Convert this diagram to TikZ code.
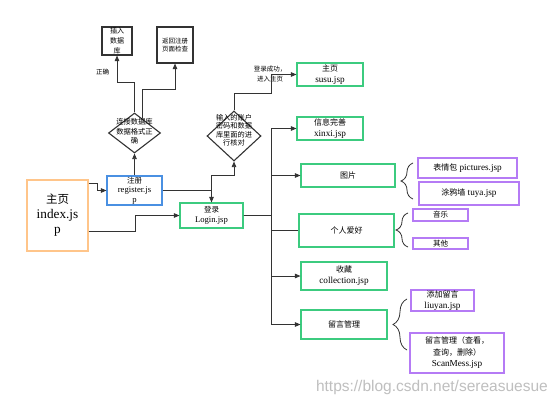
\documentclass[tikz,border=0pt]{standalone}
\usepackage{fontspec}
\setmainfont{Liberation Serif}[Scale=1.15]
\newfontfamily\cjk{Noto Sans CJK SC}
\newfontfamily\wmfont{Liberation Sans}
\usetikzlibrary{arrows.meta,shapes.geometric,decorations.pathreplacing}
\definecolor{lnc}{HTML}{333333}
\definecolor{grn}{HTML}{3CCB7F}
\definecolor{prp}{HTML}{B57BF5}
\definecolor{blu}{HTML}{4A90E2}
\definecolor{org}{HTML}{FFC58A}
\begin{document}
\begin{tikzpicture}[x=1pt,y=-1pt,
  box/.style={draw, line width=1.1pt, align=center, inner sep=0pt, fill=white},
  gbox/.style={box, draw=grn, font=\fontsize{8}{11}\selectfont},
  pbox/.style={box, draw=prp, font=\fontsize{8}{11}\selectfont},
  kbox/.style={box, draw=lnc, font=\fontsize{7}{10}\selectfont},
  dshape/.style={diamond, draw=lnc, line width=1.1pt, inner sep=0pt, fill=white},
  dtext/.style={align=center, inner sep=0pt, font=\fontsize{7.3}{9.5}\selectfont},
  lbl/.style={align=center, inner sep=0pt, font=\fontsize{6.5}{10}\selectfont},
  arr/.style={draw=lnc, line width=0.8pt, -{Triangle[length=5.5pt,width=4.5pt]}},
  ln/.style={draw=lnc, line width=0.8pt},
  brc/.style={draw=lnc, line width=0.8pt, decorate},
]
\fill[white] (0,0) rectangle (554,409);
\useasboundingbox (0,0) rectangle (554,409);

% left part
\node[box, draw=org, line width=1.2pt, minimum width=61pt, minimum height=71pt,
      font=\fontsize{11.5}{15}\selectfont] (index) at (57.5,215.5) {{\cjk 主页}\\index.js\\p};
\node[box, draw=blu, minimum width=55pt, minimum height=29pt,
      font=\fontsize{7.5}{9.5}\selectfont] (register) at (134.5,190.5) {{\cjk 注册}\\register.js\\p};
\node[gbox, minimum width=63pt, minimum height=25pt, font=\fontsize{7.5}{10.5}\selectfont]
      (login) at (211.5,215.5) {{\cjk 登录}\\Login.jsp};

\node[kbox, minimum width=30pt, minimum height=28pt, font=\fontsize{7}{10}\selectfont]
      (insert) at (117,41) {\cjk 插入\\\cjk 数据\\\cjk 库};
\node[kbox, minimum width=36pt, minimum height=36pt, font=\fontsize{6.5}{8.5}\selectfont]
      (ret) at (175,45) {\cjk 返回注册\\\cjk 页面检查};

\node[dshape, minimum width=52pt, minimum height=40pt] (d1) at (134.5,133) {};
\node[dtext] (d1t) at (134.5,131.5) {\cjk 连接数据库\\\cjk 数据格式正\\\cjk 确};
\node[dshape, minimum width=54pt, minimum height=50pt] (d2) at (234,136) {};
\node[dtext, font=\fontsize{7.2}{8.5}\selectfont] (d2t) at (234,130.5)
      {\cjk 输入的账户\\\cjk 密码和数据\\\cjk 库里面的进\\\cjk 行核对};

\node[lbl] (ok) at (102.5,72) {\cjk 正确};

% right green boxes
\node[gbox, minimum width=66pt, minimum height=23pt] (susu) at (330,74.5) {{\cjk 主页}\\susu.jsp};
\node[gbox, minimum width=66pt, minimum height=23pt] (xinxi) at (330,128.5) {{\cjk 信息完善}\\xinxi.jsp};
\node[gbox, minimum width=94pt, minimum height=23pt] (tupian) at (348,175.5) {\cjk 图片};
\node[gbox, minimum width=95pt, minimum height=33pt] (hobby) at (346.5,230.5) {\cjk 个人爱好};
\node[gbox, minimum width=86pt, minimum height=28pt] (coll) at (344,276) {{\cjk 收藏}\\collection.jsp};
\node[gbox, minimum width=86pt, minimum height=29pt] (lymg) at (344,324.5) {\cjk 留言管理};

% purple boxes
\node[pbox, minimum width=99pt, minimum height=20pt] (pics) at (467.5,168) {{\cjk 表情包} pictures.jsp};
\node[pbox, minimum width=100pt, minimum height=23pt] (tuya) at (469,193.5) {{\cjk 涂鸦墙} tuya.jsp};
\node[pbox, minimum width=55pt, minimum height=12pt, font=\fontsize{7.5}{9}\selectfont] (music) at (440.5,215) {\cjk 音乐};
\node[pbox, minimum width=55pt, minimum height=11pt, font=\fontsize{7.5}{9}\selectfont] (other) at (440.5,243.5) {\cjk 其他};
\node[pbox, minimum width=63pt, minimum height=21pt] (liuyan) at (442.5,300.5) {{\cjk 添加留言}\\liuyan.jsp};
\node[pbox, minimum width=94pt, minimum height=40pt, font=\fontsize{8}{11.5}\selectfont] (scan) at (457,353)
      {\cjk 留言管理（查看，\\\cjk 查询，删除）\\ScanMess.jsp};

% labels
\node[lbl, font=\fontsize{6.5}{10}\selectfont] (succ) at (270,74) {\cjk 登录成功，\\\cjk 进入主页};

% coordinates
\coordinate (j) at (271,93);
\coordinate (lj) at (271,215.5);

% connectors left
\draw[arr] ([yshift=32.5pt]index.east) -- ++(9,0) |- (register.west);
\draw[arr] ([yshift=-15.5pt]index.east) -- ++(47,0) |- (login.west);
\draw[arr] (register.east) -| (login.north);
\draw[arr] (register.north) -- (d1.south);
\draw[arr] (d1.north) -- ++(0,-30) -| (insert.south);
\draw[arr] ([xshift=8pt,yshift=-6pt]d1.north) -- ++(0,-29) -| (ret.south);
\draw[arr] (login.north) -- ++(0,-27) -| (d2.south);
\draw[arr] (d2.north) |- (j) |- (susu.west);

% trunk
\draw[arr] (login.east) -- (lj) |- (xinxi.west);
\draw[arr] (login.east) -- (lj) |- (tupian.west);
\draw[ln] (login.east) -- (lj) |- (hobby.west);
\draw[arr] (login.east) -- (lj) |- (coll.west);
\draw[arr] (login.east) -- (lj) |- (lymg.west);

% braces
\coordinate (b1a) at (413,199); \coordinate (b1b) at (413,163);
\coordinate (b2a) at (408,247); \coordinate (b2b) at (408,213);
\coordinate (b3a) at (407,350); \coordinate (b3b) at (407,299);
\draw[brc, decoration={brace, amplitude=12pt}] (b1a) -- (b1b);
\draw[brc, decoration={brace, amplitude=12pt}] (b2a) -- (b2b);
\draw[brc, decoration={brace, amplitude=14pt}] (b3a) -- (b3b);

% watermark
\node[anchor=east, inner sep=0pt, text=gray!50, font=\wmfont\fontsize{15.5}{17}\selectfont] (wm) at (548,387)
      {https://blog.csdn.net/sereasuesue};
\end{tikzpicture}
\end{document}
